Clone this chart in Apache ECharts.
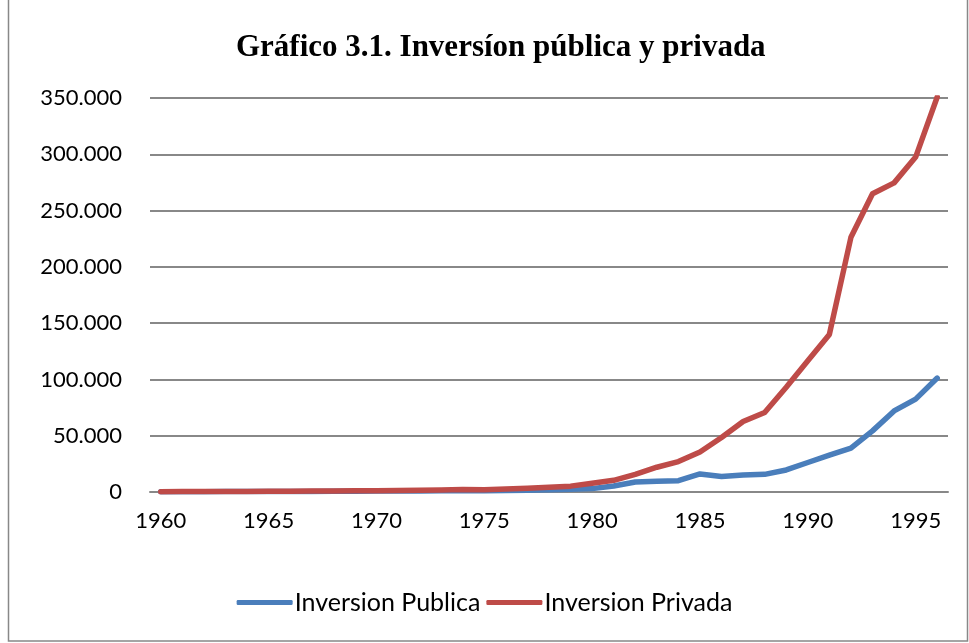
<!DOCTYPE html>
<html>
<head>
<meta charset="utf-8">
<title>Gráfico 3.1</title>
<script src="https://cdn.jsdelivr.net/npm/echarts@6/dist/echarts.min.js"></script>
<style>
  html, body { margin: 0; padding: 0; background: #fff; }
  #main { width: 969px; height: 643px; }
</style>
</head>
<body>
<div id="main"></div>
<script>
// años 1960 - 1996
let years = [];
for (let y = 1960; y <= 1996; y++) years.push(String(y));

// valores
let publica = [200, 250, 300, 350, 400, 450, 500, 550, 600, 700, 800, 850, 900, 1000, 1100, 1200, 1300, 1500, 2000, 2500,
    3000, 5300, 8900, 9500, 10100, 16000, 13700, 15100, 15700, 19600, 26200, 32700, 38900, 54300, 72000, 82500, 101200];
let privada = [300, 400, 450, 500, 550, 600, 700, 800, 900, 1000, 1200, 1400, 1500, 1800, 2300, 2100, 2600, 3400, 4200, 5200,
    7700, 10400, 15700, 22000, 27000, 35600, 48400, 62600, 70600, 93000, 116500, 140000, 226300, 264900, 274600, 297500, 350900];

let yTicks = [0, 50000, 100000, 150000, 200000, 250000, 300000, 350000];

let myChart = echarts.init(document.getElementById('main'));

// formato con punto de miles
function miles(v) {
    return String(v).replace(/\B(?=(\d{3})+(?!\d))/g, '.');
}

let option = {
    animation: false,
    backgroundColor: '#fff',
    title: {
        text: 'Gráfico 3.1. Inversíon pública y privada',
        left: 231,
        top: 27,
        textStyle: {
            fontFamily: 'Liberation Serif',
            fontWeight: 'bold',
            fontSize: 31,
            color: '#000'
        }
    },
    legend: {
        bottom: 23,
        left: 'center',
        itemWidth: 56,
        itemHeight: 5,
        itemGap: 6,
        icon: 'roundRect',
        textStyle: { fontFamily: 'Lato', fontSize: 25, color: '#000', padding: [0, 0, 0, -3] },
        data: ['Inversion Publica', 'Inversion Privada']
    },
    graphic: [{
        type: 'rect',
        shape: { x: 8.5, y: -2, width: 959, height: 643 },
        style: { fill: 'none', stroke: '#888', lineWidth: 1.5 }
    }],
    grid: { left: 150, right: 21, top: 98, bottom: 151 },
    xAxis: {
        type: 'category',
        data: years,
        boundaryGap: true,
        axisLine: { lineStyle: { color: '#888', width: 2 } },
        axisTick: { show: false },
        axisLabel: {
            interval: 4,
            margin: 18,
            fontFamily: 'Lato',
            fontSize: 22,
            color: '#000'
        }
    },
    yAxis: {
        type: 'value',
        min: yTicks[0],
        max: yTicks[yTicks.length - 1],
        interval: 50000,
        axisLine: { show: false },
        axisTick: { show: false },
        splitLine: { lineStyle: { color: '#888', width: 2 } },
        axisLabel: {
            margin: 28,
            fontFamily: 'Lato',
            fontSize: 22,
            color: '#000',
            formatter: miles
        }
    },
    series: [
        {
            name: 'Inversion Publica',
            type: 'line',
            data: publica,
            symbol: 'none',
            color: '#4a7ebb',
            lineStyle: { width: 5.5, color: '#4a7ebb', cap: 'round', join: 'round' }
        },
        {
            name: 'Inversion Privada',
            type: 'line',
            data: privada,
            symbol: 'none',
            color: '#be4b48',
            lineStyle: { width: 5.5, color: '#be4b48', cap: 'round', join: 'round' }
        }
    ]
};
myChart.setOption(option);
</script>
</body>
</html>
